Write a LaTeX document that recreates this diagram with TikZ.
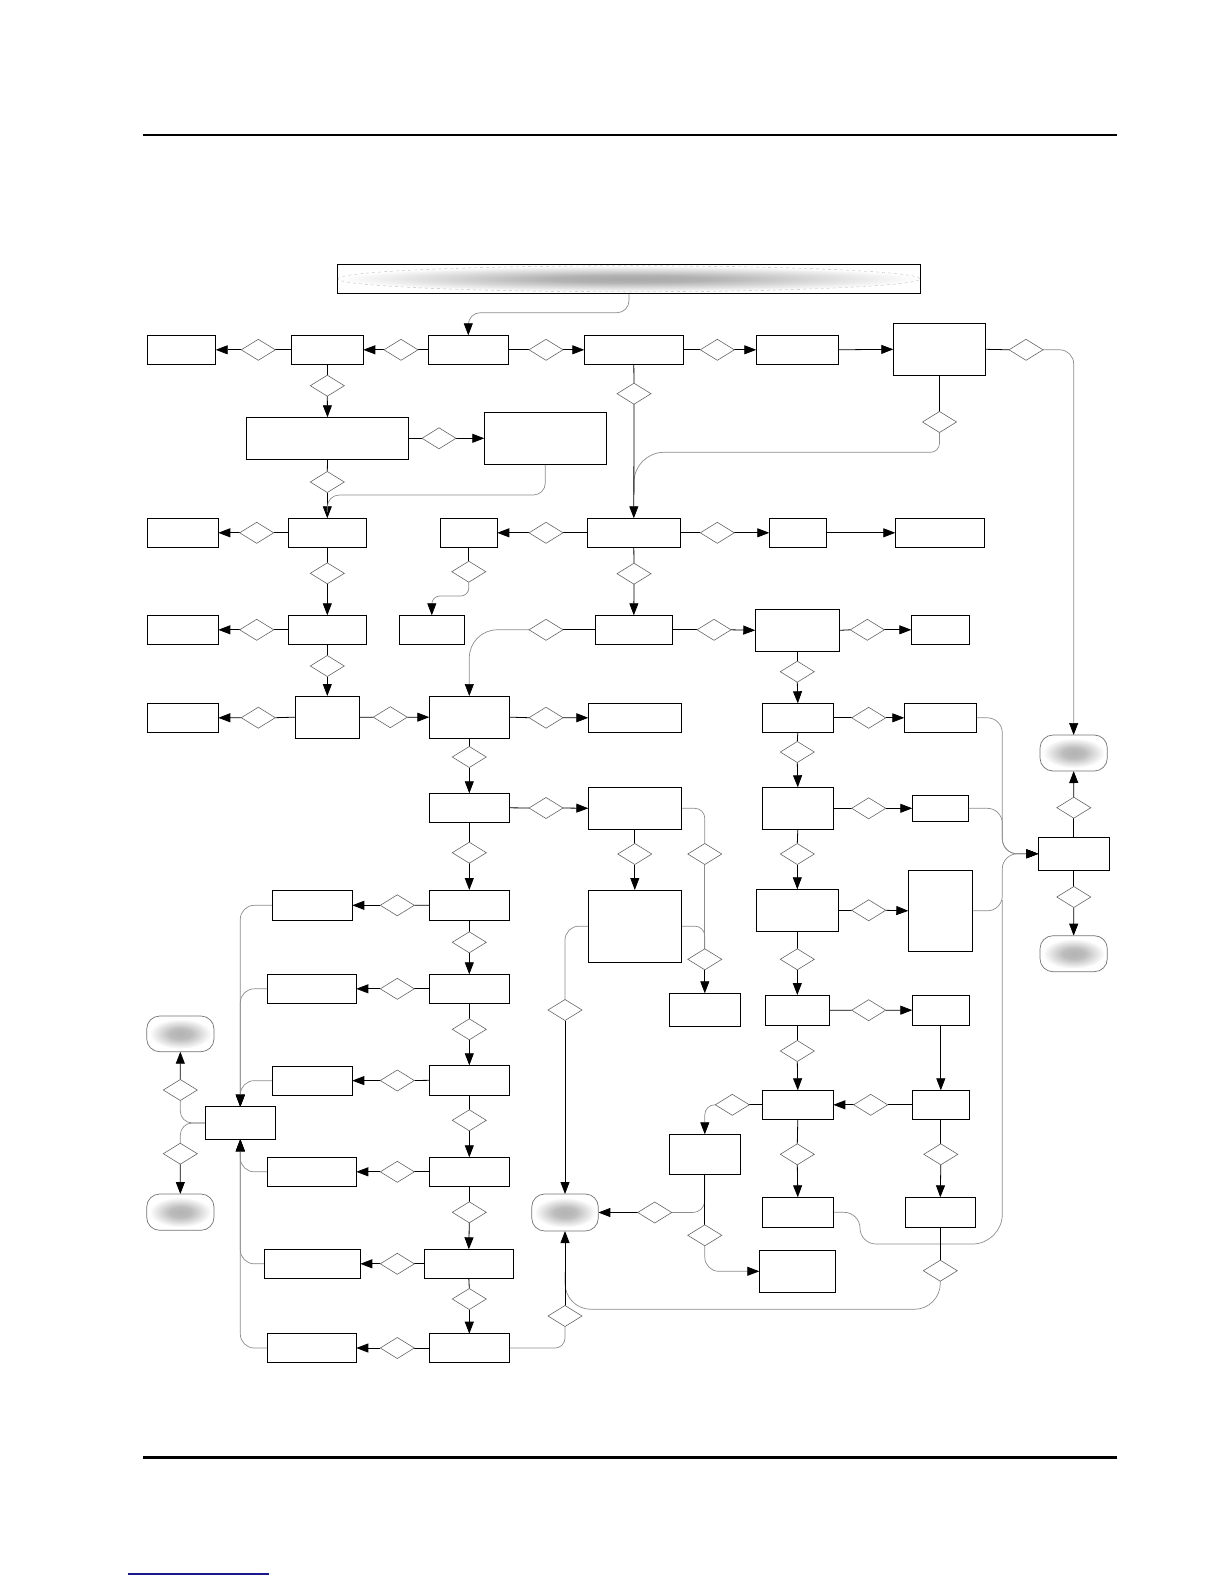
\documentclass[tikz,border=0pt]{standalone}
\usetikzlibrary{shapes.geometric,arrows.meta,fit}
\pgfdeclarelayer{bg}
\pgfsetlayers{bg,main}
\definecolor{footblue}{RGB}{25,25,140}
\pgfdeclareradialshading{blobshade}{\pgfpoint{0bp}{0bp}}{color(0bp)=(black!30); color(9bp)=(black!26); color(25bp)=(white); color(50bp)=(white)}
\pgfdeclareradialshading{barshade}{\pgfpoint{0bp}{0bp}}{color(0bp)=(black!34); color(7bp)=(black!30); color(25bp)=(white); color(50bp)=(white)}
\tikzset{
 box/.style={draw=black,line width=1pt,fill=white,inner sep=0pt,outer sep=0pt},
 dia/.style={diamond,draw=black!60,line width=0.6pt,fill=white,minimum width=34pt,minimum height=21pt,inner sep=0pt,outer sep=0pt},
 term/.style={draw=black!55,line width=0.7pt,fill=white,rounded corners=13pt,inner sep=0pt,outer sep=0pt},
 ln/.style={draw=black,line width=0.8pt},
 arr/.style={ln,-{Triangle[length=12pt,width=9pt]}},
 gl/.style={draw=black!45,line width=0.7pt,rounded corners=12pt},
 garr/.style={gl,-{Triangle[length=12pt,width=9pt,color=black]}},
}
\newcommand{\bx}[5]{\node[box,fit={(#2,#3) (#4,#5)}] (#1) {};}
\newcommand{\dm}[3]{\node[dia] (#1) at (#2,#3) {};}
\newcommand{\tm}[5]{\node[term,fit={(#2,#3) (#4,#5)}] (#1) {};
  \shade[shading=blobshade] (#1.center) ellipse (31pt and 15pt);}
\begin{document}
\begin{tikzpicture}[x=1pt,y=-1pt]
\useasboundingbox (0,0) rectangle (1224,1584);
\draw[line width=2.5pt] (142.8,135) -- (1117,135);
\draw[line width=2.5pt] (142.8,1457.7) -- (1117,1457.7);
\draw[footblue,line width=1.3pt] (128,1574) -- (269,1574);
% title bar
\bx{T0}{337.3}{264.3}{920.7}{293.3}
\shade[shading=barshade] (T0.center) ellipse (291pt and 13pt);
\draw[black!25,dashed,line width=0.4pt] (T0.center) ellipse (291pt and 13pt);
% boxes
\bx{A1}{147.3}{335.3}{215.7}{364.3}
\bx{A2}{291.3}{335.3}{363.3}{364.3}
\bx{A3}{428.3}{335.3}{508.3}{364.3}
\bx{A4}{584.3}{335.3}{683.3}{364.3}
\bx{A5}{756.3}{335.3}{838.7}{364.3}
\bx{A6}{893.3}{323.3}{985.7}{375.3}
\bx{B1}{246.3}{417.3}{408.7}{459.3}
\bx{B2}{484.3}{412.3}{606.3}{464.3}
\bx{C1}{147.3}{518.3}{218.3}{547.3}
\bx{C2}{288.3}{518.3}{366.3}{547.3}
\bx{C3}{440.3}{518.3}{497.3}{547.3}
\bx{C4}{587.3}{518.3}{680.3}{547.3}
\bx{C5}{769.3}{518.3}{826.3}{547.3}
\bx{C6}{895.3}{518.3}{984.3}{547.3}
\bx{D1}{147.3}{615.3}{218.3}{644.3}
\bx{D2}{288.3}{615.3}{366.3}{644.3}
\bx{D3}{399.3}{615.3}{464.3}{644.3}
\bx{D4}{595.3}{615.3}{672.3}{644.3}
\bx{D5}{755.3}{609.3}{839.3}{651.3}
\bx{D6}{911.3}{615.3}{969.3}{644.3}
\bx{E1}{147.3}{703.3}{218.3}{732.3}
\bx{E2}{295.3}{696}{359.3}{738.3}
\bx{E3}{429.3}{696}{509.3}{738.3}
\bx{E4}{588.3}{703.3}{681.3}{732.3}
\bx{E5}{762.3}{703.3}{833.3}{732.3}
\bx{E6}{904.3}{703.3}{976.3}{732.3}
\bx{F3}{429.3}{793.3}{509.3}{822.3}
\bx{F4}{588.3}{787.3}{681.3}{829.3}
\bx{F5}{762.3}{787.3}{833.3}{829.3}
\bx{F6}{912.3}{795.3}{968.3}{821.3}
\bx{G2}{272.3}{890.3}{352.3}{920.3}
\bx{G3}{429.3}{890}{509.3}{920.3}
\bx{G4}{588.3}{890}{681.3}{962.3}
\bx{G5}{756.3}{889.3}{838.3}{931.3}
\bx{G6}{908.3}{870.3}{972.3}{951.3}
\bx{H2}{267.3}{974.3}{356.3}{1003.3}
\bx{H3}{429.3}{974.3}{509.3}{1003.3}
\bx{H4}{669.3}{993.3}{740.3}{1026}
\bx{H5}{765.3}{995}{829.3}{1025.3}
\bx{H6}{912.3}{995}{969.3}{1025.3}
\bx{I2}{272.3}{1066}{352.3}{1095.3}
\bx{I3}{429.3}{1065.3}{509.3}{1095.3}
\bx{I5}{762.3}{1090.3}{833.3}{1119.3}
\bx{I6}{912.3}{1090.3}{969.3}{1119.3}
\bx{L}{205.3}{1106.7}{275.3}{1139.3}
\bx{N}{669.3}{1134.3}{740.3}{1174.3}
\bx{J2}{267.3}{1157.3}{356.3}{1186.3}
\bx{J3}{429.3}{1157.3}{509.3}{1186.3}
\bx{Q5}{762.3}{1197.3}{833.3}{1227.3}
\bx{Q6}{905.3}{1197.3}{975.3}{1227.3}
\bx{P}{759.3}{1250.3}{835.3}{1292.3}
\bx{K2}{264.3}{1249.3}{360.3}{1278.3}
\bx{K3}{424.3}{1249.3}{513.3}{1278.3}
\bx{M2}{267.3}{1333.7}{356.3}{1362.3}
\bx{M3}{429.3}{1333.7}{509.3}{1362.3}
\bx{R1}{1038.3}{837.3}{1109.3}{870.3}
% terminals
\tm{T1}{1040}{735}{1107.3}{771}
\tm{T2}{1040}{935.7}{1107.3}{971.7}
\tm{T3}{531.7}{1194}{598.3}{1231}
\tm{TL1}{146.7}{1016}{214}{1051.7}
\tm{TL2}{146.7}{1194}{214}{1230.3}
% diamonds
\dm{dA21}{258.3}{349.8}
\dm{dA32}{401}{349.8}
\dm{dA34}{546}{349.8}
\dm{dA45}{717.3}{349.8}
\dm{dA6r}{1026}{349.8}
\dm{dA2d}{327.3}{385.7}
\dm{dA4d}{634}{393.7}
\dm{dA6d}{939.5}{422}
\dm{dB12}{439}{438.3}
\dm{dB1d}{327.3}{482}
\dm{dC21}{256.7}{532.8}
\dm{dC43}{546}{532.8}
\dm{dC45}{717.3}{532.8}
\dm{dC3d}{468.8}{571.7}
\dm{dC2d}{327.3}{573.3}
\dm{dC4d}{634}{573.7}
\dm{dD21}{256.7}{629.8}
\dm{dD4l}{546}{629.8}
\dm{dD45}{714}{629.8}
\dm{dD56}{867.3}{629.8}
\dm{dD5d}{797.3}{671.7}
\dm{dD2d}{327.3}{666}
\dm{dE21}{258.3}{717.7}
\dm{dE23}{390.3}{717.2}
\dm{dE34}{546}{717.7}
\dm{dE56}{868.7}{717.8}
\dm{dE3d}{469.3}{757}
\dm{dE5d}{797.3}{752}
\dm{dF34}{546}{808}
\dm{dF56}{868.7}{808.3}
\dm{dF3d}{469.3}{852.7}
\dm{dF4d}{634.8}{854}
\dm{dF5d}{797.3}{854}
\dm{dF4r}{704.8}{854}
\dm{dG32}{397.3}{905.3}
\dm{dG56}{868.7}{910.3}
\dm{dG3d}{469.3}{942.3}
\dm{dG4r}{704.8}{959.3}
\dm{dG5d}{797.3}{959.3}
\dm{dG4l}{565}{1010}
\dm{dH32}{397.3}{988.8}
\dm{dH3d}{469.3}{1029.3}
\dm{dH56}{868.7}{1010.2}
\dm{dH5d}{797.3}{1051}
\dm{dI32}{397.3}{1080.5}
\dm{dI3d}{469.3}{1120.3}
\dm{dI65}{870.7}{1104.8}
\dm{dI5l}{732.3}{1104.8}
\dm{dI5d}{797.3}{1154.3}
\dm{dI6d}{940.8}{1154.3}
\dm{dJ32}{397.3}{1171.8}
\dm{dJ3d}{469.3}{1212.3}
\dm{dNl}{654.7}{1212.5}
\dm{dNd}{704.8}{1235.3}
\dm{dQ6d}{940.3}{1270.7}
\dm{dK32}{397.3}{1263.8}
\dm{dK3d}{469.3}{1299}
\dm{dM32}{397.3}{1348}
\dm{dM3r}{565}{1316}
\dm{dLu}{180.3}{1090}
\dm{dLd}{180.3}{1153.7}
\dm{dR1u}{1073.8}{807.7}
\dm{dR1d}{1073.8}{897}
% junction coordinates
\coordinate (j1) at (634,492);
\coordinate (j2) at (327.3,512);
\coordinate (j3) at (565,1272);
\coordinate (j4) at (1002.3,900);
\begin{pgfonlayer}{bg}
\draw[garr] (T0.south) -- (629,312.7) -- (468.3,312.7) -- (A3.north);
% row A
\draw[ln] (A3.west) -- (dA32.east); \draw[arr] (dA32.west) -- (A2.east);
\draw[ln] (A2.west) -- (dA21.east); \draw[arr] (dA21.west) -- (A1.east);
\draw[ln] (A3.east) -- (dA34.west); \draw[arr] (dA34.east) -- (A4.west);
\draw[ln] (A4.east) -- (dA45.west); \draw[arr] (dA45.east) -- (A5.west);
\draw[arr] (A5.east) -- (A6.west);
\draw[ln] (A6.east) -- (dA6r.west);
\draw[garr,rounded corners=14pt] (dA6r.east) -| (T1.north);
\draw[ln] (A6.south) -- (dA6d.north);
\draw[gl,rounded corners=9pt] (dA6d.south) -- (939.5,452.3) [rounded corners=30pt] -- (634,452.3) -- (j1);
\draw[ln] (A4.south) -- (dA4d.north); \draw[arr] (dA4d.south) -- (C4.north);
\draw[ln] (A2.south) -- (dA2d.north); \draw[arr] (dA2d.south) -- (B1.north);
\draw[ln] (B1.east) -- (dB12.west); \draw[arr] (dB12.east) -- (B2.west);
\draw[ln] (B1.south) -- (dB1d.north); \draw[arr] (dB1d.south) -- (C2.north);
\draw[gl] (B2.south) -- (545.3,495) -- (327.3,495) -- (j2);
% row C
\draw[ln] (C2.west) -- (dC21.east); \draw[arr] (dC21.west) -- (C1.east);
\draw[ln] (C4.west) -- (dC43.east); \draw[arr] (dC43.west) -- (C3.east);
\draw[ln] (C4.east) -- (dC45.west); \draw[arr] (dC45.east) -- (C5.west);
\draw[arr] (C5.east) -- (C6.west);
\draw[ln] (C3.south) -- (dC3d.north);
\draw[garr,rounded corners=8pt] (dC3d.south) -- (468.8,596) -- (431.8,596) -- (D3.north);
\draw[ln] (C2.south) -- (dC2d.north); \draw[arr] (dC2d.south) -- (D2.north);
\draw[ln] (C4.south) -- (dC4d.north); \draw[arr] (dC4d.south) -- (D4.north);
% row D
\draw[ln] (D2.west) -- (dD21.east); \draw[arr] (dD21.west) -- (D1.east);
\draw[ln] (D4.west) -- (dD4l.east);
\draw[garr,rounded corners=28pt] (dD4l.west) -| (E3.north);
\draw[ln] (D4.east) -- (dD45.west); \draw[arr] (dD45.east) -- (D5.west);
\draw[ln] (D5.east) -- (dD56.west); \draw[arr] (dD56.east) -- (D6.west);
\draw[ln] (D5.south) -- (dD5d.north); \draw[arr] (dD5d.south) -- (E5.north);
\draw[ln] (D2.south) -- (dD2d.north); \draw[arr] (dD2d.south) -- (E2.north);
% row E
\draw[ln] (E2.west) -- (dE21.east); \draw[arr] (dE21.west) -- (E1.east);
\draw[ln] (E2.east) -- (dE23.west); \draw[arr] (dE23.east) -- (E3.west);
\draw[ln] (E3.east) -- (dE34.west); \draw[arr] (dE34.east) -- (E4.west);
\draw[ln] (E5.east) -- (dE56.west); \draw[arr] (dE56.east) -- (E6.west);
\draw[ln] (E3.south) -- (dE3d.north); \draw[arr] (dE3d.south) -- (F3.north);
\draw[ln] (E5.south) -- (dE5d.north); \draw[arr] (dE5d.south) -- (F5.north);
% bus into R1
\draw[garr,rounded corners=15pt] (E6.east) -- (1002.3,717.8) -- (1002.3,853.8) -- (R1.west);
\draw[garr,rounded corners=15pt] (F6.east) -- (1002.3,808.3) -- (1002.3,853.8) -- (R1.west);
\draw[garr,rounded corners=15pt] (G6.east) -- (1002.3,910.8) -- (1002.3,853.8) -- (R1.west);
\draw[gl,rounded corners=16pt] (Q5.east) -- (860,1212.3) -- (860,1244) [rounded corners=30pt] -- (1002.3,1244) -- (j4);
\draw[ln] (R1.north) -- (dR1u.south); \draw[arr] (dR1u.north) -- (T1.south);
\draw[ln] (R1.south) -- (dR1d.north); \draw[arr] (dR1d.south) -- (T2.north);
% row F
\draw[ln] (F3.east) -- (dF34.west); \draw[arr] (dF34.east) -- (F4.west);
\draw[ln] (F4.south) -- (dF4d.north); \draw[arr] (dF4d.south) -- (G4.north);
\draw[gl,rounded corners=10pt] (F4.east) -| (dF4r.north);
\draw[gl] (dF4r.south) -- (dG4r.north);
\draw[gl,rounded corners=10pt] (G4.east) -| (dG4r.north);
\draw[arr] (dG4r.south) -- (H4.north);
\draw[ln] (F5.east) -- (dF56.west); \draw[arr] (dF56.east) -- (F6.west);
\draw[ln] (F5.south) -- (dF5d.north); \draw[arr] (dF5d.south) -- (G5.north);
\draw[ln] (F3.south) -- (dF3d.north); \draw[arr] (dF3d.south) -- (G3.north);
% row G
\draw[ln] (G3.west) -- (dG32.east); \draw[arr] (dG32.west) -- (G2.east);
\draw[ln] (G3.south) -- (dG3d.north); \draw[arr] (dG3d.south) -- (H3.north);
\draw[gl,rounded corners=14pt] (G4.west) -| (dG4l.north);
\draw[arr] (dG4l.south) -- (T3.north);
\draw[ln] (G5.east) -- (dG56.west); \draw[arr] (dG56.east) -- (G6.west);
\draw[ln] (G5.south) -- (dG5d.north); \draw[arr] (dG5d.south) -- (H5.north);
% row H
\draw[ln] (H3.west) -- (dH32.east); \draw[arr] (dH32.west) -- (H2.east);
\draw[ln] (H3.south) -- (dH3d.north); \draw[arr] (dH3d.south) -- (I3.north);
\draw[ln] (H5.east) -- (dH56.west); \draw[arr] (dH56.east) -- (H6.west);
\draw[arr] (H6.south) -- (I6.north);
\draw[ln] (H5.south) -- (dH5d.north); \draw[arr] (dH5d.south) -- (I5.north);
% row I
\draw[ln] (I3.west) -- (dI32.east); \draw[arr] (dI32.west) -- (I2.east);
\draw[ln] (I3.south) -- (dI3d.north); \draw[arr] (dI3d.south) -- (J3.north);
\draw[ln] (I6.west) -- (dI65.east); \draw[arr] (dI65.west) -- (I5.east);
\draw[ln] (I5.west) -- (dI5l.east);
\draw[garr,rounded corners=10pt] (dI5l.west) -| (N.north);
\draw[ln] (I5.south) -- (dI5d.north); \draw[arr] (dI5d.south) -- (Q5.north);
\draw[ln] (I6.south) -- (dI6d.north); \draw[arr] (dI6d.south) -- (Q6.north);
% N
\draw[gl,rounded corners=12pt] (N.south) |- (dNl.east);
\draw[ln] (N.south) -- (dNd.north);
\draw[arr] (dNl.west) -- (T3.east);
\draw[garr,rounded corners=14pt] (dNd.south) |- (P.west);
% Q6
\draw[ln] (Q6.south) -- (dQ6d.north);
\draw[gl,rounded corners=26pt] (dQ6d.south) -- (940.3,1309.3) -- (565,1309.3) -- (j3);
% J K M
\draw[ln] (J3.west) -- (dJ32.east); \draw[arr] (dJ32.west) -- (J2.east);
\draw[ln] (J3.south) -- (dJ3d.north); \draw[arr] (dJ3d.south) -- (K3.north);
\draw[ln] (K3.west) -- (dK32.east); \draw[arr] (dK32.west) -- (K2.east);
\draw[ln] (K3.south) -- (dK3d.north); \draw[arr] (dK3d.south) -- (M3.north);
\draw[ln] (M3.west) -- (dM32.east); \draw[arr] (dM32.west) -- (M2.east);
\draw[gl,rounded corners=10pt] (M3.east) -| (dM3r.south);
\draw[arr] (dM3r.north) -- (T3.south);
% L
\draw[garr,rounded corners=14pt] (G2.west) -| (L.north);
\draw[garr,rounded corners=14pt] (H2.west) -| (L.north);
\draw[garr,rounded corners=14pt] (I2.west) -| (L.north);
\draw[garr,rounded corners=14pt] (J2.west) -| (L.south);
\draw[garr,rounded corners=14pt] (K2.west) -| (L.south);
\draw[garr,rounded corners=14pt] (M2.west) -| (L.south);
\draw[gl,rounded corners=12pt] (L.west) -| (dLu.south);
\draw[arr] (dLu.north) -- (TL1.south);
\draw[gl,rounded corners=12pt] (L.west) -| (dLd.north);
\draw[arr] (dLd.south) -- (TL2.north);
\end{pgfonlayer}
\end{tikzpicture}
\end{document}
